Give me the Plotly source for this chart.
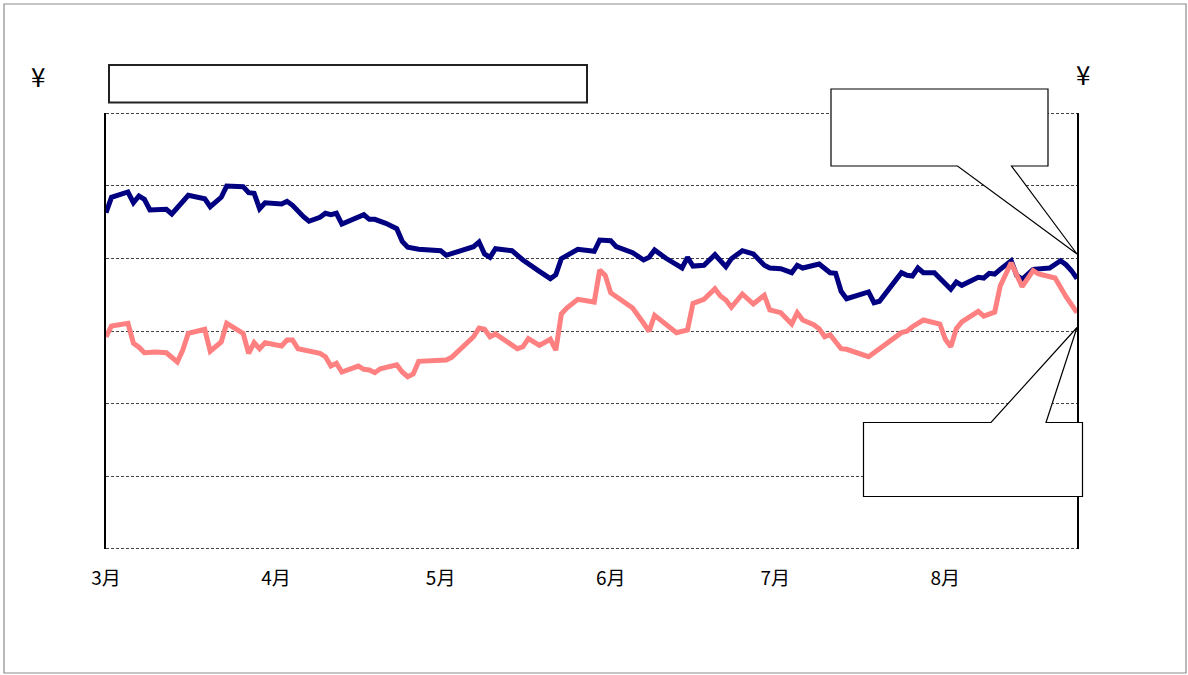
import plotly.graph_objects as go

# ---- data ----
navy_dates = [
    "2007-03-01", "2007-03-02", "2007-03-05", "2007-03-06", "2007-03-07", "2007-03-08", "2007-03-09",
    "2007-03-12", "2007-03-13", "2007-03-16", "2007-03-19", "2007-03-20", "2007-03-22", "2007-03-23",
    "2007-03-26", "2007-03-27", "2007-03-28", "2007-03-29", "2007-03-30", "2007-04-02", "2007-04-03",
    "2007-04-04", "2007-04-06", "2007-04-07", "2007-04-09", "2007-04-10", "2007-04-11", "2007-04-12",
    "2007-04-13", "2007-04-17", "2007-04-18", "2007-04-19", "2007-04-21", "2007-04-23", "2007-04-24",
    "2007-04-25", "2007-04-27", "2007-05-01", "2007-05-02", "2007-05-04", "2007-05-07", "2007-05-08",
    "2007-05-09", "2007-05-10", "2007-05-11", "2007-05-14", "2007-05-16", "2007-05-19", "2007-05-21",
    "2007-05-22", "2007-05-23", "2007-05-26", "2007-05-29", "2007-05-30", "2007-06-01", "2007-06-02",
    "2007-06-05", "2007-06-07", "2007-06-08", "2007-06-09", "2007-06-11", "2007-06-14", "2007-06-15",
    "2007-06-16", "2007-06-18", "2007-06-20", "2007-06-22", "2007-06-23", "2007-06-25", "2007-06-27",
    "2007-06-29", "2007-06-30", "2007-07-02", "2007-07-04", "2007-07-05", "2007-07-06", "2007-07-09",
    "2007-07-11", "2007-07-12", "2007-07-13", "2007-07-14", "2007-07-18", "2007-07-19", "2007-07-20",
    "2007-07-24", "2007-07-25", "2007-07-26", "2007-07-27", "2007-07-28", "2007-07-30", "2007-07-31",
    "2007-08-02", "2007-08-03", "2007-08-04", "2007-08-07", "2007-08-08", "2007-08-09", "2007-08-10",
    "2007-08-11", "2007-08-13", "2007-08-14", "2007-08-15", "2007-08-17", "2007-08-20", "2007-08-22",
    "2007-08-23", "2007-08-24", "2007-08-25",
]
navy_values = [
    462.8, 484.0, 491.3, 476.5, 485.8, 481.2, 466.5,
    467.5, 461.0, 486.7, 482.0, 471.0, 484.0, 499.5,
    498.6, 490.3, 489.5, 468.3, 476.5, 474.8, 478.5,
    473.0, 457.3, 451.0, 456.5, 462.0, 460.0, 462.0,
    447.2, 460.0, 453.7, 453.7, 448.2, 440.8, 423.4,
    415.2, 412.4, 410.5, 404.2, 408.7, 416.0, 422.5,
    406.0, 401.4, 413.2, 410.5, 397.7, 382.1, 372.0,
    377.5, 399.5, 412.4, 409.7, 425.2, 424.3, 416.0,
    407.7, 397.7, 401.4, 411.5, 400.4, 386.7, 401.4,
    389.4, 390.4, 405.0, 388.5, 399.5, 410.5, 406.0,
    390.4, 386.7, 385.7, 380.2, 390.4, 386.7, 392.2,
    380.2, 379.4, 354.6, 344.4, 353.7, 338.9, 340.9,
    380.2, 376.6, 375.7, 386.7, 380.2, 380.2, 372.9,
    357.4, 367.4, 362.9, 373.9, 372.9, 379.4, 378.4,
    384.9, 396.7, 376.6, 371.1, 384.9, 386.7, 396.7,
    391.2, 383.0, 372.0,
]

pink_dates = [
    "2007-03-01", "2007-03-02", "2007-03-05", "2007-03-06", "2007-03-07", "2007-03-08", "2007-03-10",
    "2007-03-12", "2007-03-14", "2007-03-15", "2007-03-16", "2007-03-19", "2007-03-20", "2007-03-22",
    "2007-03-23", "2007-03-26", "2007-03-27", "2007-03-28", "2007-03-29", "2007-03-30", "2007-04-02",
    "2007-04-03", "2007-04-04", "2007-04-05", "2007-04-09", "2007-04-10", "2007-04-11", "2007-04-12",
    "2007-04-13", "2007-04-16", "2007-04-17", "2007-04-18", "2007-04-19", "2007-04-20", "2007-04-23",
    "2007-04-24", "2007-04-25", "2007-04-26", "2007-04-27", "2007-05-02", "2007-05-03", "2007-05-07",
    "2007-05-08", "2007-05-09", "2007-05-10", "2007-05-11", "2007-05-15", "2007-05-16", "2007-05-17",
    "2007-05-19", "2007-05-21", "2007-05-22", "2007-05-23", "2007-05-24", "2007-05-26", "2007-05-29",
    "2007-05-30", "2007-05-31", "2007-06-01", "2007-06-03", "2007-06-05", "2007-06-07", "2007-06-08",
    "2007-06-09", "2007-06-13", "2007-06-15", "2007-06-16", "2007-06-18", "2007-06-20", "2007-06-21",
    "2007-06-22", "2007-06-23", "2007-06-25", "2007-06-27", "2007-06-29", "2007-06-30", "2007-07-02",
    "2007-07-04", "2007-07-05", "2007-07-06", "2007-07-08", "2007-07-09", "2007-07-10", "2007-07-11",
    "2007-07-13", "2007-07-14", "2007-07-18", "2007-07-20", "2007-07-24", "2007-07-25", "2007-07-26",
    "2007-07-28", "2007-07-31", "2007-08-01", "2007-08-02", "2007-08-03", "2007-08-04", "2007-08-07",
    "2007-08-08", "2007-08-10", "2007-08-11", "2007-08-13", "2007-08-15", "2007-08-17", "2007-08-18",
    "2007-08-21", "2007-08-23", "2007-08-25",
]
pink_values = [
    292.1, 306.9, 310.6, 283.1, 277.6, 270.1, 271.1,
    270.1, 257.3, 273.8, 296.8, 302.3, 272.1, 284.9,
    310.6, 296.8, 269.3, 283.9, 275.6, 283.9, 279.3,
    287.6, 287.6, 275.6, 269.3, 264.6, 251.8, 255.5,
    243.6, 251.8, 247.3, 246.3, 242.6, 248.1, 253.6,
    243.6, 237.1, 240.8, 258.3, 260.1, 263.8, 292.1,
    304.1, 302.3, 292.1, 295.9, 275.6, 278.4, 289.4,
    280.3, 288.6, 273.8, 323.4, 331.6, 343.6, 339.9,
    383.9, 376.6, 352.7, 341.7, 331.6, 310.6, 299.6,
    321.6, 297.7, 301.4, 338.1, 343.6, 358.2, 348.2,
    342.7, 332.6, 350.9, 337.1, 349.1, 328.9, 325.2,
    309.6, 325.2, 315.1, 308.7, 303.2, 292.1, 294.9,
    275.6, 274.8, 264.6, 275.6, 297.7, 299.6, 305.9,
    315.1, 309.6, 288.6, 278.4, 303.2, 312.4, 327.1,
    320.6, 326.1, 361.9, 394.0, 361.0, 383.0, 378.4,
    372.9, 347.2, 325.2,
]

month_ticks = ["2007-03-01", "2007-04-01", "2007-05-01", "2007-06-01", "2007-07-01", "2007-08-01"]
month_labels = ["3月", "4月", "5月", "6月", "7月", "8月"]
y_ticks = [0, 100, 200, 300, 400, 500, 600]

# ---- figure ----
W, H = 1188, 675
L, R, T, B = 106, 1077, 113, 549

def px(x):
    return (x - L) / (R - L)

def py(y):
    return (B - y) / (B - T)

fig = go.Figure()
fig.add_trace(go.Scatter(x=navy_dates, y=navy_values, mode="lines",
                         line=dict(color="#000080", width=5), showlegend=False))
fig.add_trace(go.Scatter(x=pink_dates, y=pink_values, mode="lines",
                         line=dict(color="#FF8080", width=5), showlegend=False))

font_jp = "Noto Sans CJK JP"
grid_color = "#444444"

fig.update_layout(
    width=W, height=H,
    margin=dict(l=L, r=W - R, t=T, b=H - B, pad=0),
    paper_bgcolor="white", plot_bgcolor="white",
    font=dict(family=font_jp, color="black"),
    xaxis=dict(
        type="date", range=["2007-03-01", "2007-08-25"],
        tickvals=month_ticks, ticktext=month_labels,
        tickfont=dict(size=19, family=font_jp, color="black"),
        ticks="", ticklabelstandoff=16,
        showgrid=False, zeroline=False, showline=False,
    ),
    yaxis=dict(
        range=[0, 600], tickvals=y_ticks, showticklabels=False,
        showgrid=True, gridcolor=grid_color, gridwidth=1, griddash="3px,2px",
        zeroline=False, showline=True, linecolor="black", linewidth=1.5, mirror=True,
        ticks="",
    ),
)

shapes = []
# dashed gridlines at the top and bottom edges (half-pixel aligned)
half = 0.5 * (y_ticks[-1] - y_ticks[0]) / (B - T)
for yv in (y_ticks[0] + half, y_ticks[-1] - half):
    shapes.append(dict(type="line", xref="paper", yref="y", x0=0, x1=1, y0=yv, y1=yv,
                       line=dict(color=grid_color, width=1, dash="3px,2px"), layer="below"))
# outer border
shapes.append(dict(type="rect", xref="paper", yref="paper",
                   x0=px(4), x1=px(1186), y0=py(673), y1=py(4),
                   line=dict(color="#8c8c8c", width=1.2), fillcolor="rgba(0,0,0,0)", layer="below"))
# top title box
shapes.append(dict(type="rect", xref="paper", yref="paper",
                   x0=px(109), x1=px(587), y0=py(102.5), y1=py(65),
                   line=dict(color="#222222", width=2), fillcolor="white"))

def callout(pts):
    d = "M " + " L ".join(f"{px(x):.5f},{py(y):.5f}" for x, y in pts) + " Z"
    return dict(type="path", xref="paper", yref="paper", path=d,
                line=dict(color="black", width=1.2), fillcolor="white")

shapes.append(callout([(831, 89), (1048, 89), (1048, 166), (1011.5, 166),
                       (1077, 254), (957.5, 166), (831, 166)]))
shapes.append(callout([(863.5, 422.5), (991, 422.5), (1077, 327.5), (1046, 422.5),
                       (1082.5, 422.5), (1082.5, 496.5), (863.5, 496.5)]))
fig.update_layout(shapes=shapes)

fig.add_annotation(text="¥", x=px(38), y=py(76), xref="paper", yref="paper",
                   showarrow=False, font=dict(size=26, family=font_jp, color="black"),
                   xanchor="center", yanchor="middle")
fig.add_annotation(text="¥", x=px(1083), y=py(73), xref="paper", yref="paper",
                   showarrow=False, font=dict(size=26, family=font_jp, color="black"),
                   xanchor="center", yanchor="middle")

fig.write_html("out.html", config={"displayModeBar": False},
               post_script="document.body.style.margin='0px';")
